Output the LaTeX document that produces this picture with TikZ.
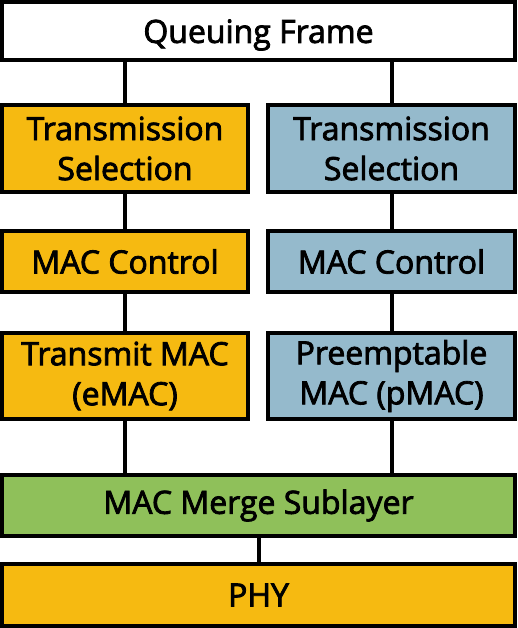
\documentclass[tikz,border=0pt]{standalone}
\usepackage{fontspec}
\setmainfont{Open Sans}[FakeBold=2.5]
\definecolor{orangebox}{HTML}{F6BA11}
\definecolor{bluebox}{HTML}{95BACC}
\definecolor{greenbox}{HTML}{8FC05A}
\begin{document}
\begin{tikzpicture}[x=1pt,y=-1pt,
  box/.style={draw=black,line width=4pt,inner sep=0pt,align=center,
    font=\fontsize{32}{40}\selectfont},
  link/.style={draw=black,line width=4pt}]
\useasboundingbox (0,0) rectangle (517,628);
\node[box,fill=white,minimum width=513pt,minimum height=58pt] (q) at (258.5,31) {\raisebox{-4pt}[\height][\depth]{Queuing Frame}};
\node[box,fill=orangebox,minimum width=246pt,minimum height=87pt] (lts) at (125,148.5) {Transmission\\Selection};
\node[box,fill=bluebox,minimum width=247pt,minimum height=87pt] (rts) at (391.5,148.5) {Transmission\\Selection};
\node[box,fill=orangebox,minimum width=246pt,minimum height=61pt] (lmc) at (125,261.5) {MAC Control};
\node[box,fill=bluebox,minimum width=247pt,minimum height=61pt] (rmc) at (391.5,261.5) {MAC Control};
\node[box,fill=orangebox,minimum width=246pt,minimum height=86pt] (emac) at (125,376) {Transmit MAC\\(eMAC)};
\node[box,fill=bluebox,minimum width=247pt,minimum height=86pt] (pmac) at (391.5,376) {Preemptable\\MAC (pMAC)};
\node[box,fill=greenbox,minimum width=513pt,minimum height=61pt] (merge) at (258.5,505.5) {MAC Merge Sublayer};
\node[box,fill=orangebox,minimum width=513pt,minimum height=62pt] (phy) at (258.5,595) {PHY};
\draw[link] (q.south -| lts.north) -- (lts.north);
\draw[link] (q.south -| rts.north) -- (rts.north);
\draw[link] (lts) -- (lmc);
\draw[link] (rts) -- (rmc);
\draw[link] (lmc) -- (emac);
\draw[link] (rmc) -- (pmac);
\draw[link] (emac.south) -- (emac.south |- merge.north);
\draw[link] (pmac.south) -- (pmac.south |- merge.north);
\draw[link] (merge) -- (phy);
\end{tikzpicture}
\end{document}
